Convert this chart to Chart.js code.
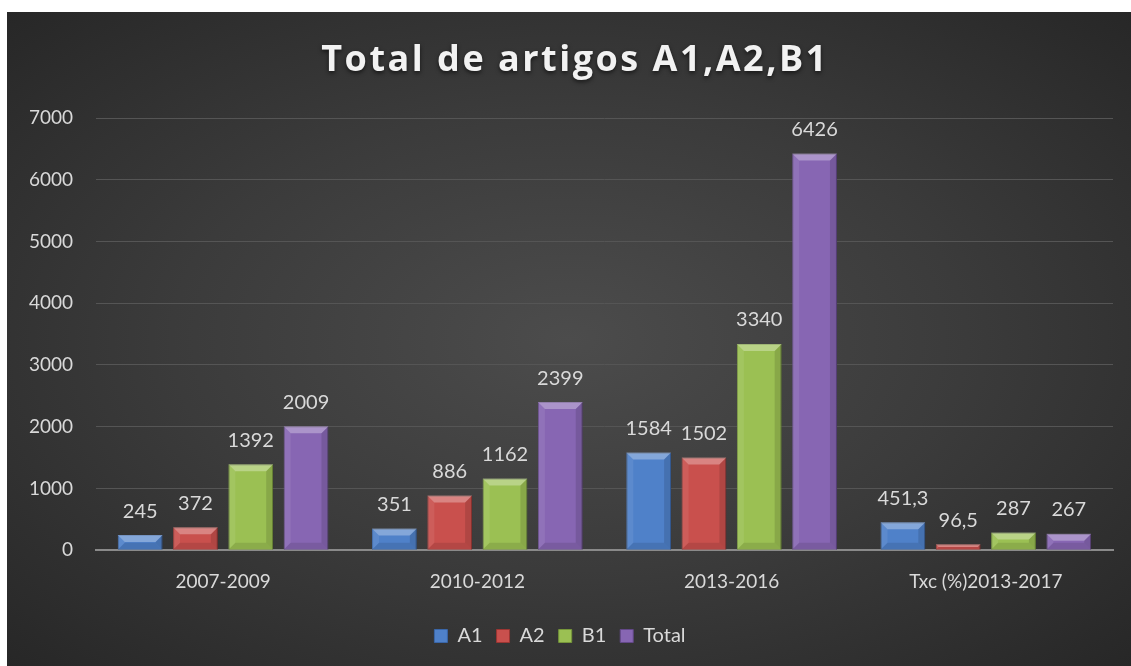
<!DOCTYPE html>
<html>
<head>
<meta charset="utf-8">
<script src="https://cdn.jsdelivr.net/npm/chart.js@4.4.1/dist/chart.umd.min.js"></script>
<style>
  html, body { margin: 0; padding: 0; background: #fff; }
  #wrap {
    position: absolute; left: 7px; top: 12px; width: 1124px; height: 654px;
    background: radial-gradient(ellipse at 50% 50%, #4c4c4c 0%, #3b3b3b 50%, #272727 100%);
  }
</style>
</head>
<body>
<div id="wrap"><canvas id="artigosChart"></canvas></div>
<script>
// dados
const periodos = ['2007-2009', '2010-2012', '2013-2016', 'Txc (%)2013-2017'];
const valoresA1 = [245, 351, 1584, 451.3];
const valoresA2 = [372, 886, 1502, 96.5];
const valoresB1 = [1392, 1162, 3340, 287];
const valoresTotal = [2009, 2399, 6426, 267];
const ticksY = [0, 1000, 2000, 3000, 4000, 5000, 6000, 7000];

const corTexto = '#d9d9d9';
const fonte = 'Lato, "Open Sans", sans-serif';

// titulo com espaçamento entre letras
const tituloPlugin = {
    id: 'titulo',
    afterDraw(chart) {
        const ctx = chart.ctx;
        ctx.save();
        ctx.font = 'bold 36px "Open Sans", sans-serif';
        ctx.letterSpacing = '2.5px';
        ctx.textAlign = 'center';
        ctx.textBaseline = 'middle';
        ctx.shadowColor = 'rgba(0,0,0,0.6)';
        ctx.shadowBlur = 4;
        ctx.shadowOffsetY = 2;
        ctx.fillStyle = '#f2f2f2';
        ctx.fillText('Total de artigos A1,A2,B1', chart.width / 2 + 6, 49);
        ctx.restore();
    }
};

// efeito de bisel nas barras
const biselPlugin = {
    id: 'bisel',
    afterDatasetsDraw(chart) {
        const ctx = chart.ctx;
        chart.data.datasets.forEach((ds, i) => {
            chart.getDatasetMeta(i).data.forEach(bar => {
                const p = bar.getProps(['x', 'y', 'base', 'width'], true);
                const l = p.x - p.width / 2, r = p.x + p.width / 2;
                const t = p.y, b = p.base;
                const s = Math.min(7, (b - t) / 2);
                const quad = (pts, fill) => {
                    ctx.beginPath();
                    ctx.moveTo(pts[0][0], pts[0][1]);
                    pts.slice(1).forEach(q => ctx.lineTo(q[0], q[1]));
                    ctx.closePath();
                    ctx.fillStyle = fill;
                    ctx.fill();
                };
                ctx.save();
                quad([[l, t], [r, t], [r - s, t + s], [l + s, t + s]], 'rgba(255,255,255,0.3)');
                quad([[l, t], [l + s, t + s], [l + s, b - s], [l, b]], 'rgba(255,255,255,0.08)');
                quad([[r, t], [r - s, t + s], [r - s, b - s], [r, b]], 'rgba(0,0,0,0.12)');
                quad([[l, b], [l + s, b - s], [r - s, b - s], [r, b]], 'rgba(0,0,0,0.1)');
                ctx.restore();
            });
        });
    }
};

// rótulos de valores acima das barras
const rotulosPlugin = {
    id: 'rotulos',
    afterDatasetsDraw(chart) {
        const ctx = chart.ctx;
        ctx.save();
        ctx.font = '20px ' + fonte;
        ctx.fillStyle = corTexto;
        ctx.textAlign = 'center';
        ctx.textBaseline = 'middle';
        chart.data.datasets.forEach((ds, i) => {
            chart.getDatasetMeta(i).data.forEach((bar, j) => {
                const txt = String(ds.data[j]).replace('.', ',');
                ctx.fillText(txt, bar.x, bar.y - 24);
            });
        });
        ctx.restore();
    }
};

const ctx = document.getElementById('artigosChart').getContext('2d');
const artigosChart = new Chart(ctx, {
    type: 'bar',
    data: {
        labels: periodos,
        datasets: [
            { label: 'A1', data: valoresA1, backgroundColor: '#4f81c9', borderColor: '#3a66a8', borderWidth: 1 },
            { label: 'A2', data: valoresA2, backgroundColor: '#c9504d', borderColor: '#9c3633', borderWidth: 1 },
            { label: 'B1', data: valoresB1, backgroundColor: '#9bc053', borderColor: '#76963a', borderWidth: 1 },
            { label: 'Total', data: valoresTotal, backgroundColor: '#8766b3', borderColor: '#634888', borderWidth: 1 }
        ]
    },
    options: {
        responsive: true,
        maintainAspectRatio: false,
        animation: false,
        categoryPercentage: 0.87,
        barPercentage: 0.81,
        layout: { padding: { top: 106, right: 18, bottom: 10, left: 0 } },
        plugins: {
            legend: {
                position: 'bottom',
                labels: {
                    color: corTexto,
                    font: { family: fonte, size: 20 },
                    boxWidth: 13,
                    boxHeight: 13,
                    padding: 14
                }
            },
            title: { display: false },
            tooltip: { enabled: false }
        },
        scales: {
            x: {
                grid: { display: false },
                border: { color: '#8a8a8a', width: 2 },
                afterFit(scale) { scale.height += 7; },
                ticks: { color: corTexto, font: { family: fonte, size: 19 }, padding: 12 }
            },
            y: {
                min: 0,
                max: 7000,
                afterBuildTicks(scale) { scale.ticks = ticksY.map(v => ({ value: v })); },
                afterFit(scale) { scale.width = 89; },
                border: { display: false },
                grid: { color: '#555555', lineWidth: 1, drawTicks: false },
                ticks: {
                    color: corTexto,
                    font: { family: fonte, size: 19 },
                    padding: 23,
                    callback: v => String(v)
                }
            }
        }
    },
    plugins: [tituloPlugin, biselPlugin, rotulosPlugin]
});
</script>
</body>
</html>
